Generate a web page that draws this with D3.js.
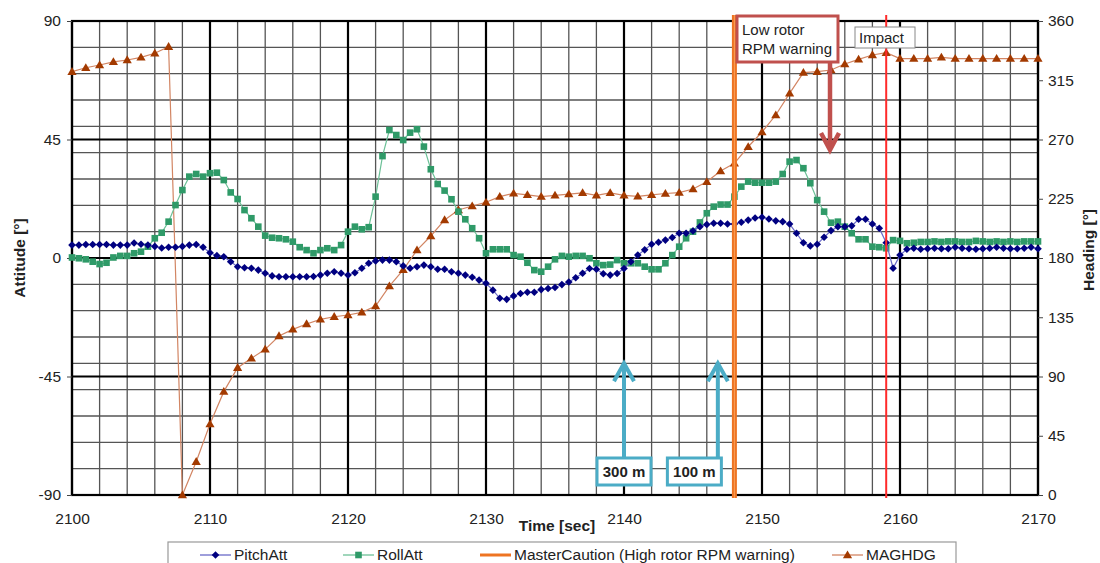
<!DOCTYPE html>
<html>
<head>
<meta charset="utf-8">
<script src="https://cdn.jsdelivr.net/npm/d3@7"></script>
<style>
  body { margin: 0; background: #fff; }
  svg { display: block; font-family: "Liberation Sans", Arial, sans-serif; }
</style>
</head>
<body>
<svg id="chart" width="1100" height="563"></svg>
<script>
// attitude is sampled every 0.5 s, heading every 1 s, both from t = 2100 s
const attStart = 2100, attStep = 0.5;
const hdgStart = 2100, hdgStep = 1;

// PitchAtt [deg]
const pitchAtt = [
  4.9, 4.9, 5.1, 5.1, 5.1, 5.1, 4.9, 4.9, 4.9, 5.7,
  5.2, 4.9, 4.4, 3.8, 4.1, 4.1, 4.4, 4.9, 5.1, 4.1,
  2.0, 0.9, 0.5, -1.4, -3.3, -3.7, -3.9, -4.6, -5.8, -6.8,
  -7.1, -7.1, -7.1, -7.1, -7.1, -7.0, -6.5, -5.8, -5.2, -5.8,
  -6.5, -5.6, -3.9, -2.0, -1.1, -0.8, -0.8, -1.4, -3.0, -3.9,
  -3.3, -2.7, -3.3, -4.3, -4.3, -5.2, -5.8, -6.5, -7.3, -8.4,
  -9.6, -12.2, -15.3, -15.7, -14.4, -13.5, -13.0, -13.0, -12.0, -11.6,
  -11.2, -10.1, -9.1, -7.5, -5.8, -4.0, -4.3, -6.0, -6.5, -5.9,
  -4.0, -1.4, 1.1, 3.1, 5.2, 6.0, 6.8, 7.8, 9.4, 9.4,
  10.3, 11.9, 12.7, 13.2, 13.2, 12.9, 12.9, 13.6, 14.4, 15.2,
  15.5, 14.8, 14.1, 13.8, 12.9, 9.4, 5.8, 4.6, 5.2, 7.9,
  10.4, 11.9, 11.9, 12.2, 14.7, 14.7, 12.9, 11.3, 5.8, -3.9,
  1.1, 3.3, 3.7, 3.3, 3.5, 3.7, 3.5, 3.5, 4.1, 3.7,
  3.5, 3.3, 3.5, 3.7, 4.1, 3.7, 3.5, 3.5, 3.7, 4.1,
  3.5
];

// RollAtt [deg]
const rollAtt = [
  0.2, -0.1, -0.5, -1.4, -2.3, -1.8, 0.2, 0.8, 0.8, 1.8,
  2.4, 4.3, 7.5, 9.6, 13.8, 20.1, 25.8, 30.9, 31.9, 30.9,
  32.2, 32.4, 29.6, 24.9, 22.4, 18.2, 15.1, 11.9, 8.5, 7.7,
  7.5, 7.1, 6.2, 4.1, 3.0, 1.8, 3.0, 3.7, 3.0, 4.9,
  10.0, 11.9, 10.9, 11.7, 23.3, 38.7, 48.6, 46.7, 44.8, 47.6,
  48.9, 42.3, 33.7, 28.1, 25.6, 22.3, 17.6, 14.7, 11.3, 7.5,
  1.8, 3.3, 3.3, 3.3, 1.1, 0.5, -1.8, -4.6, -5.2, -3.3,
  -0.5, 0.8, 0.5, 0.8, 0.8, -0.1, -2.0, -2.7, -2.5, -0.8,
  -2.0, -2.0, -2.0, -3.3, -4.3, -4.3, -2.0, 1.1, 4.3, 7.5,
  10.0, 13.5, 17.0, 19.5, 20.3, 20.3, 23.3, 27.1, 29.0, 28.6,
  28.6, 28.6, 29.0, 31.9, 36.6, 37.2, 34.1, 28.4, 22.0, 17.6,
  13.4, 13.8, 11.9, 9.4, 7.1, 7.1, 4.3, 4.1, 3.7, 6.8,
  6.5, 5.6, 5.8, 6.1, 6.1, 6.3, 6.1, 6.3, 6.3, 6.1,
  6.1, 6.5, 6.3, 6.1, 6.3, 6.1, 6.3, 6.1, 6.3, 6.3,
  6.3
];

// MAGHDG [deg]
const magHdg = [
  321.5, 324.5, 326.6, 329.0, 330.4, 332.4, 335.5, 340.5, 0, 25.3,
  53.9, 78.5, 96.7, 103.8, 110.6, 120.8, 125.8, 129.9, 133.4, 135.4,
  136.7, 138.7, 143.5, 158.7, 171.0, 186.0, 196.7, 208.9, 216.5, 219.5,
  222.3, 226.6, 229.1, 228.0, 226.6, 227.6, 228.5, 229.5, 227.6, 229.5,
  227.6, 226.8, 228.0, 229.0, 229.7, 232.4, 237.9, 246.0, 251.9, 264.5,
  275.7, 288.6, 305.0, 320.8, 321.5, 322.8, 327.3, 330.9, 334.2, 335.9,
  331.4, 331.4, 331.4, 332.4, 331.4, 331.4, 331.4, 331.4, 331.4, 331.4,
  331.4
];

const timeTicks = [2100, 2110, 2120, 2130, 2140, 2150, 2160, 2170];
const attTicks = [-90, -45, 0, 45, 90];
const hdgTicks = [0, 45, 90, 135, 180, 225, 270, 315, 360];

const masterCautionTime = 2148;
const impactTime = 2159;
const altitudeMarks = [
  { label: "300 m", time: 2140, boxTime: 2140 },
  { label: "100 m", time: 2146.8, boxTime: 2145.1 }
];
const seriesNames = ["PitchAtt", "RollAtt", "MasterCaution (High rotor RPM warning)", "MAGHDG"];

const pitchData = pitchAtt.map((v, i) => ({ t: attStart + i * attStep, v: v }));
const rollData = rollAtt.map((v, i) => ({ t: attStart + i * attStep, v: v }));
const hdgData = magHdg.map((v, i) => ({ t: hdgStart + i * hdgStep, v: v }));

const svg = d3.select("#chart");
const plotL = 72, plotR = 1038, plotT = 21, plotB = 495;

const x = d3.scaleLinear().domain([2100, 2170]).range([plotL, plotR]);
const yAtt = d3.scaleLinear().domain([-90, 90]).range([plotB, plotT]);
const yHdg = d3.scaleLinear().domain([0, 360]).range([plotB, plotT]);

// grid: thin every 2 s / 10 deg, heavy every 10 s / 45 deg
const grid = svg.append("g");
grid.selectAll(".vmin").data(d3.range(2100, 2171, 2)).join("line")
    .attr("x1", d => x(d)).attr("x2", d => x(d))
    .attr("y1", plotT).attr("y2", plotB)
    .attr("stroke", "#555").attr("stroke-width", 1.3);
grid.selectAll(".hmin").data(d3.range(-90, 91, 10)).join("line")
    .attr("x1", plotL).attr("x2", plotR)
    .attr("y1", d => yAtt(d)).attr("y2", d => yAtt(d))
    .attr("stroke", "#555").attr("stroke-width", 1.3);
grid.selectAll(".vmaj").data(timeTicks).join("line")
    .attr("x1", d => x(d)).attr("x2", d => x(d))
    .attr("y1", plotT).attr("y2", plotB)
    .attr("stroke", "#000").attr("stroke-width", 2.2);
grid.selectAll(".hmaj").data(attTicks).join("line")
    .attr("x1", plotL).attr("x2", plotR)
    .attr("y1", d => yAtt(d)).attr("y2", d => yAtt(d))
    .attr("stroke", "#000").attr("stroke-width", 2.2);
grid.append("rect")
    .attr("x", plotL).attr("y", plotT)
    .attr("width", plotR - plotL).attr("height", plotB - plotT)
    .attr("fill", "none").attr("stroke", "#000").attr("stroke-width", 2.2);

// axes (plain hyphen for negatives, like the original)
const fontSize = "15.5px";
const plain = d => String(d);
const leftAxis = svg.append("g").attr("transform", `translate(${plotL},0)`)
    .call(d3.axisLeft(yAtt).tickValues(attTicks).tickFormat(plain).tickSize(5).tickPadding(6));
const rightAxis = svg.append("g").attr("transform", `translate(${plotR},0)`)
    .call(d3.axisRight(yHdg).tickValues(hdgTicks).tickFormat(plain).tickSize(5).tickPadding(5));
const bottomAxis = svg.append("g").attr("transform", `translate(0,${plotB})`)
    .call(d3.axisBottom(x).tickValues(timeTicks).tickFormat(plain).tickSize(0).tickPadding(18));
[leftAxis, rightAxis, bottomAxis].forEach(a => {
  a.select(".domain").remove();
  a.selectAll("text").attr("font-size", fontSize).attr("fill", "#222")
    .attr("font-family", "Liberation Sans, Arial, sans-serif");
  a.selectAll("line").attr("stroke", "#444");
});

svg.append("text").attr("transform", "translate(25,258) rotate(-90)")
    .attr("text-anchor", "middle").attr("font-size", "15.5px").attr("font-weight", "bold")
    .attr("fill", "#222").text("Attitude [°]");
svg.append("text").attr("transform", "translate(1094,250) rotate(-90)")
    .attr("text-anchor", "middle").attr("font-size", "15.5px").attr("font-weight", "bold")
    .attr("fill", "#222").text("Heading [°]");
svg.append("text").attr("x", 557).attr("y", 531)
    .attr("text-anchor", "middle").attr("font-size", "15.5px").attr("font-weight", "bold")
    .attr("fill", "#222").text("Time [sec]");

// series
const pitchColor = "#000080", pitchLine = "#6a6ac8";
const rollColor = "#2f9a68", rollLine = "#6cc097";
const hdgColor = "#a33a00", hdgLine = "#d28563";
const diamond = "M0,-3.8L3.8,0L0,3.8L-3.8,0Z";
const triangle = "M0,-4.6L4.6,3.2L-4.6,3.2Z";

const lineAtt = d3.line().x(d => x(d.t)).y(d => yAtt(d.v));
const lineHdg = d3.line().x(d => x(d.t)).y(d => yHdg(d.v));

svg.append("path").datum(hdgData).attr("d", lineHdg)
    .attr("fill", "none").attr("stroke", hdgLine).attr("stroke-width", 1.2);
svg.append("g").selectAll("path").data(hdgData).join("path")
    .attr("d", triangle).attr("transform", d => `translate(${x(d.t)},${yHdg(d.v)})`)
    .attr("fill", hdgColor);

svg.append("path").datum(rollData).attr("d", lineAtt)
    .attr("fill", "none").attr("stroke", rollLine).attr("stroke-width", 1.2);
svg.append("g").selectAll("rect").data(rollData).join("rect")
    .attr("x", d => x(d.t) - 3.3).attr("y", d => yAtt(d.v) - 3.3)
    .attr("width", 6.6).attr("height", 6.6).attr("fill", rollColor);

svg.append("path").datum(pitchData).attr("d", lineAtt)
    .attr("fill", "none").attr("stroke", pitchLine).attr("stroke-width", 1.2);
svg.append("g").selectAll("path").data(pitchData).join("path")
    .attr("d", diamond).attr("transform", d => `translate(${x(d.t)},${yAtt(d.v)})`)
    .attr("fill", pitchColor);

// master caution and impact lines
svg.append("line").attr("x1", x(masterCautionTime)).attr("x2", x(masterCautionTime))
    .attr("y1", 15).attr("y2", 498).attr("stroke", "#ee7422").attr("stroke-width", 5);
svg.append("line").attr("x1", x(masterCautionTime)).attr("x2", x(masterCautionTime))
    .attr("y1", 15).attr("y2", 498).attr("stroke", "#f9a05a").attr("stroke-width", 1);
svg.append("line").attr("x1", x(impactTime)).attr("x2", x(impactTime))
    .attr("y1", 15).attr("y2", 498).attr("stroke", "#ff2a2a").attr("stroke-width", 2);

// low rotor RPM warning callout
const warnColor = "#c0504d";
svg.append("rect").attr("x", 737).attr("y", 16).attr("width", 101).attr("height", 46)
    .attr("fill", "#fff").attr("stroke", warnColor).attr("stroke-width", 3);
svg.append("text").attr("x", 742).attr("y", 35).attr("font-size", "15px").attr("fill", "#222").text("Low rotor");
svg.append("text").attr("x", 742).attr("y", 54).attr("font-size", "15px").attr("fill", "#222").text("RPM warning");
svg.append("line").attr("x1", 830).attr("x2", 830).attr("y1", 63).attr("y2", 149)
    .attr("stroke", warnColor).attr("stroke-width", 4.5);
svg.append("path").attr("d", "M821,133L830,150L839,133")
    .attr("fill", "none").attr("stroke", warnColor).attr("stroke-width", 4.5);

// impact label
svg.append("rect").attr("x", 855).attr("y", 27).attr("width", 60).attr("height", 21)
    .attr("fill", "#fff").attr("stroke", "#888").attr("stroke-width", 1);
svg.append("text").attr("x", 859).attr("y", 43).attr("font-size", "15px").attr("fill", "#222").text("Impact");

// altitude arrows
const altColor = "#4bacc6";
const altG = svg.append("g").selectAll("g").data(altitudeMarks).join("g");
altG.append("line")
    .attr("x1", d => x(d.time)).attr("x2", d => x(d.time))
    .attr("y1", 458).attr("y2", 365)
    .attr("stroke", altColor).attr("stroke-width", 4);
altG.append("path")
    .attr("d", d => `M${x(d.time) - 10},${yAtt(-40) + 18}L${x(d.time)},${yAtt(-40)}L${x(d.time) + 10},${yAtt(-40) + 18}`)
    .attr("fill", "none").attr("stroke", altColor).attr("stroke-width", 4);
altG.append("rect")
    .attr("x", d => x(d.boxTime) - 27).attr("y", 458).attr("width", 54).attr("height", 27)
    .attr("fill", "#fff").attr("stroke", altColor).attr("stroke-width", 3);
altG.append("text")
    .attr("x", d => x(d.boxTime)).attr("y", 477).attr("text-anchor", "middle")
    .attr("font-size", "15px").attr("font-weight", "bold").attr("fill", "#222")
    .text(d => d.label);

// legend
svg.append("rect").attr("x", 168).attr("y", 542).attr("width", 788).attr("height", 40)
    .attr("fill", "#fff").attr("stroke", "#999").attr("stroke-width", 1.2);
const legendX = [200, 343, 480, 832];
const legendY = 555;
const lg = svg.append("g").selectAll("g").data(seriesNames).join("g")
    .attr("transform", (d, i) => `translate(${legendX[i]},${legendY})`);
lg.append("line").attr("x1", 0).attr("x2", 31).attr("y1", 0).attr("y2", 0)
    .attr("stroke", (d, i) => [pitchLine, rollLine, "#ee7422", hdgLine][i])
    .attr("stroke-width", (d, i) => i === 2 ? 3 : 1.3);
lg.filter((d, i) => i === 0).append("path").attr("d", diamond)
    .attr("transform", "translate(15.5,0)").attr("fill", pitchColor);
lg.filter((d, i) => i === 1).append("rect").attr("x", 12.2).attr("y", -3.3)
    .attr("width", 6.6).attr("height", 6.6).attr("fill", rollColor);
lg.filter((d, i) => i === 3).append("path").attr("d", triangle)
    .attr("transform", "translate(15.5,0)").attr("fill", hdgColor);
lg.append("text").attr("x", 34).attr("y", 5).attr("font-size", "15.5px").attr("fill", "#222")
    .text(d => d);
</script>
</body>
</html>
